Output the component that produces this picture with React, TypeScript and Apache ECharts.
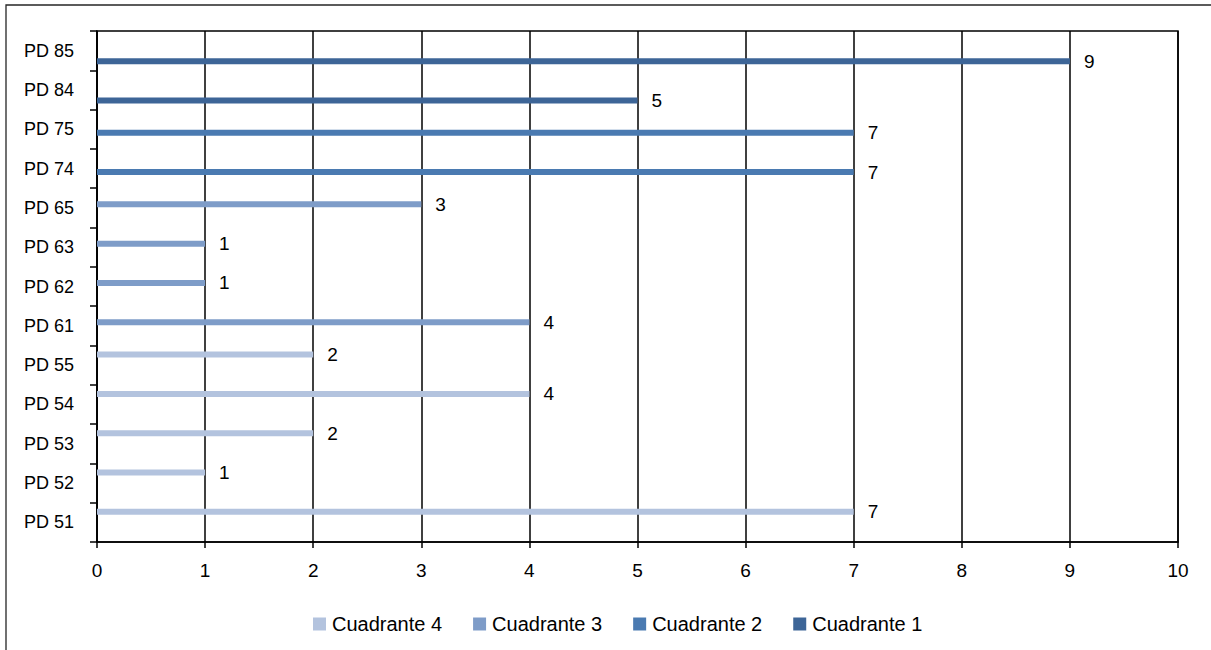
import React, { useEffect, useRef } from "react";
import * as echarts from "echarts";

const categories = ["PD 51", "PD 52", "PD 53", "PD 54", "PD 55", "PD 61", "PD 62", "PD 63", "PD 65", "PD 74", "PD 75", "PD 84", "PD 85"];
const seriesNames = ["Cuadrante 4", "Cuadrante 3", "Cuadrante 2", "Cuadrante 1"];
const cuadrante4 = [7, 1, 2, 4, 2, null, null, null, null, null, null, null, null];
const cuadrante3 = [null, null, null, null, null, 4, 1, 1, 3, null, null, null, null];
const cuadrante2 = [null, null, null, null, null, null, null, null, null, 7, 7, null, null];
const cuadrante1 = [null, null, null, null, null, null, null, null, null, null, null, 5, 9];
const xTicks = [0, 10, 1];
const colors = ["#b3c3de", "#7e9cc8", "#4a7ab1", "#3d6597"];

const FONT = '"Liberation Sans", Arial, sans-serif';

export default function App() {
  const ref = useRef<HTMLDivElement>(null);
  useEffect(() => {
    if (!ref.current) return;
    const chart = echarts.init(ref.current, undefined, { renderer: "svg" });
    const values = [cuadrante4, cuadrante3, cuadrante2, cuadrante1];
    chart.setOption({
      animation: false,
      backgroundColor: "#ffffff",
      textStyle: { fontFamily: FONT },
      grid: {
        left: 97,
        right: 33,
        top: 31,
        bottom: 108,
        show: true,
        borderColor: "#000",
        borderWidth: 1.5,
        containLabel: false,
      },
      legend: {
        data: seriesNames,
        left: 308,
        top: 609,
        itemWidth: 13,
        itemHeight: 13,
        itemGap: 31,
        icon: "rect",
        textStyle: { fontSize: 20, color: "#000", fontFamily: FONT, padding: [0, 0, 0, 1] },
      },
      xAxis: {
        type: "value",
        min: xTicks[0],
        max: xTicks[1],
        interval: xTicks[2],
        axisLine: { show: true, lineStyle: { color: "#000", width: 1.5 } },
        axisTick: { show: true, length: 6, lineStyle: { color: "#000", width: 1.5 } },
        splitLine: { show: true, lineStyle: { color: "#000", width: 1.5 } },
        axisLabel: { color: "#000", fontSize: 19, margin: 19, fontFamily: FONT },
      },
      yAxis: {
        type: "category",
        data: categories,
        axisLine: { show: true, lineStyle: { color: "#000", width: 1.5 } },
        axisTick: { show: true, length: 7, lineStyle: { color: "#000", width: 1.5 } },
        axisLabel: { color: "#000", fontSize: 18, margin: 23, fontFamily: FONT },
        splitLine: { show: false },
      },
      series: seriesNames.map((name, i) => ({
        name,
        type: "bar",
        data: values[i],
        barWidth: 6,
        barGap: "17%",
        itemStyle: { color: colors[i] },
        label: {
          show: true,
          position: "right",
          distance: 14,
          color: "#000",
          fontSize: 19,
          fontFamily: FONT,
        },
      })),
      graphic: [
        {
          type: "rect",
          shape: { x: 6, y: 5, width: 1300, height: 1000 },
          style: { fill: "none", stroke: "#262626", lineWidth: 1.3 },
          silent: true,
        },
      ],
    });
    return () => chart.dispose();
  }, []);
  return (
    <div
      ref={ref}
      style={{ position: "fixed", left: 0, top: 0, width: 1211, height: 650 }}
    />
  );
}
